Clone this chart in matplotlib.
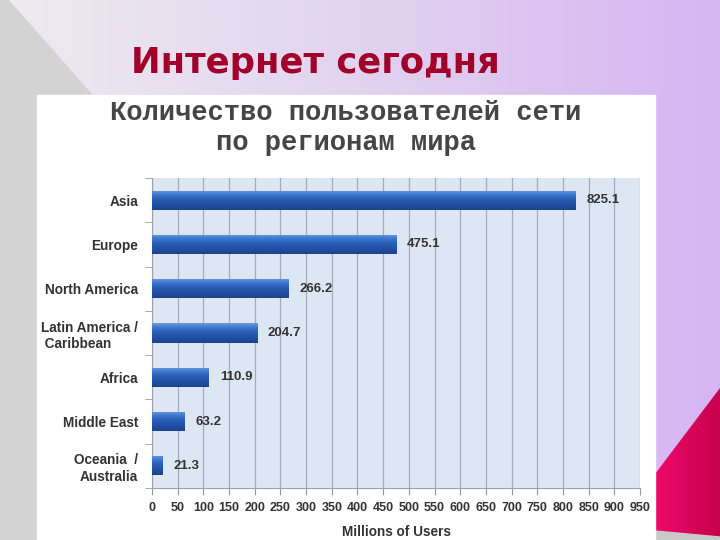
import numpy as np
import matplotlib
matplotlib.use("Agg")
import matplotlib.pyplot as plt
from matplotlib.patches import Polygon, Rectangle
from matplotlib.colors import LinearSegmentedColormap

# ---- data ----
regions = ["Asia", "Europe", "North America", "Latin America /\n Caribbean",
           "Africa", "Middle East", "Oceania  /\nAustralia"]
users = [825.1, 475.1, 266.2, 204.7, 110.9, 63.2, 21.3]
xticks = list(range(0, 951, 50))
slide_title = "Интернет сегодня"
chart_title = "Количество пользователей сети\nпо регионам мира"
x_label = "Millions of Users"

W, H = 720, 540
fig = plt.figure(figsize=(7.2, 5.4), dpi=100)

# ---- slide background ----
bg = fig.add_axes([0, 0, 1, 1])
bg.set_xlim(0, W)
bg.set_ylim(H, 0)
bg.axis("off")
grad_cmap = LinearSegmentedColormap.from_list("bg", ["#eeebef", "#e2d3ef", "#d6b5f3"])
g = np.linspace(0, 1, 256)[None, :]
bg.imshow(g, extent=[0, W, H, 0], aspect="auto", cmap=grad_cmap, zorder=0)
bg.add_patch(Polygon([(0, 0), (8, 0), (92, 95), (37, 95), (37, 540), (0, 540)],
                     closed=True, color="#d3d3d3", zorder=1))
pink = Polygon([(655, 474), (720, 388), (720, 540), (655, 540)], closed=True,
               facecolor="none", edgecolor="none", zorder=1)
bg.add_patch(pink)
pink_cmap = LinearSegmentedColormap.from_list("pk", ["#ee0a6a", "#c8004e"])
im = bg.imshow(g, extent=[655, 720, 540, 386], aspect="auto", cmap=pink_cmap, zorder=1)
im.set_clip_path(pink)
bg.add_patch(Polygon([(655, 531), (720, 537), (720, 540), (655, 540)], closed=True,
                     color="#c9c9c9", zorder=2))
bg.add_patch(Rectangle((37, 95), 618, 445, color="white", zorder=2))
bg.set_xlim(0, W)
bg.set_ylim(H, 0)

fig.text(131 / W, 1 - 63 / H, slide_title, fontsize=25.5, fontweight="bold",
         color="#a0002a", ha="left", va="center", family="DejaVu Sans")
fig.text(346 / W, 1 - 128 / H, chart_title, fontsize=19.5, color="#454545",
         fontweight="bold", ha="center", va="center", family="Liberation Mono",
         linespacing=1.22)

# ---- chart ----
ax = fig.add_axes([152 / W, 52 / H, 488 / W, 310 / H])
ax.set_facecolor("#dde7f3")
y = np.arange(len(regions))
bar_h = 0.43
bars = ax.barh(y, users, height=bar_h, color="#2d62b8", zorder=3)
bar_cmap = LinearSegmentedColormap.from_list(
    "bar", [(0, "#1b4290"), (0.55, "#2a5fb7"), (0.8, "#3f7ad0"), (1, "#6b9be0")])
for b in bars:
    x0, y0 = b.get_x(), b.get_y()
    w, h = b.get_width(), b.get_height()
    gi = ax.imshow(np.linspace(1, 0, 64)[:, None], extent=[x0, x0 + w, y0 + h, y0],
                   aspect="auto", cmap=bar_cmap, zorder=4, vmin=0, vmax=1)
    gi.set_clip_path(b)
for yi, v in zip(y, users):
    ax.text(v + 21, yi, f"{v:.1f}", va="center", ha="left", fontsize=9.5,
            fontweight="bold", color="#333333", family="Liberation Sans", zorder=5)

ax.set_xlim(0, 950)
ax.set_ylim(len(regions) - 0.5, -0.5)
ax.set_xticks(xticks)
ax.set_xticklabels([str(t) for t in xticks], fontsize=9, fontweight="bold",
                   color="#333333", family="Liberation Sans")
ax.set_yticks(y)
ax.set_yticklabels(regions, fontsize=9.8, fontweight="bold", color="#333333",
                   family="Liberation Sans")
for lbl, r in zip(ax.get_yticklabels(), regions):
    lbl.set_multialignment("left" if r.startswith("Latin") else "right")
    lbl.set_linespacing(1.25)
ax.set_yticks(np.arange(-0.5, len(regions) + 0.5, 1), minor=True)
ax.tick_params(axis="y", which="major", length=0, pad=10)
ax.tick_params(axis="y", which="minor", length=5, color="#999999", direction="out")
ax.tick_params(axis="x", length=5, color="#999999", pad=5)
ax.grid(axis="x", color="#9fadbe", linewidth=0.9, zorder=1)
ax.set_axisbelow(True)
for s in ["top", "right"]:
    ax.spines[s].set_visible(False)
for s in ["left", "bottom"]:
    ax.spines[s].set_color("#a0a0a0")
ax.set_xlabel(x_label, fontsize=9.8, fontweight="bold", color="#333333",
              family="Liberation Sans", labelpad=8)

fig.savefig("out.png", dpi=100)
